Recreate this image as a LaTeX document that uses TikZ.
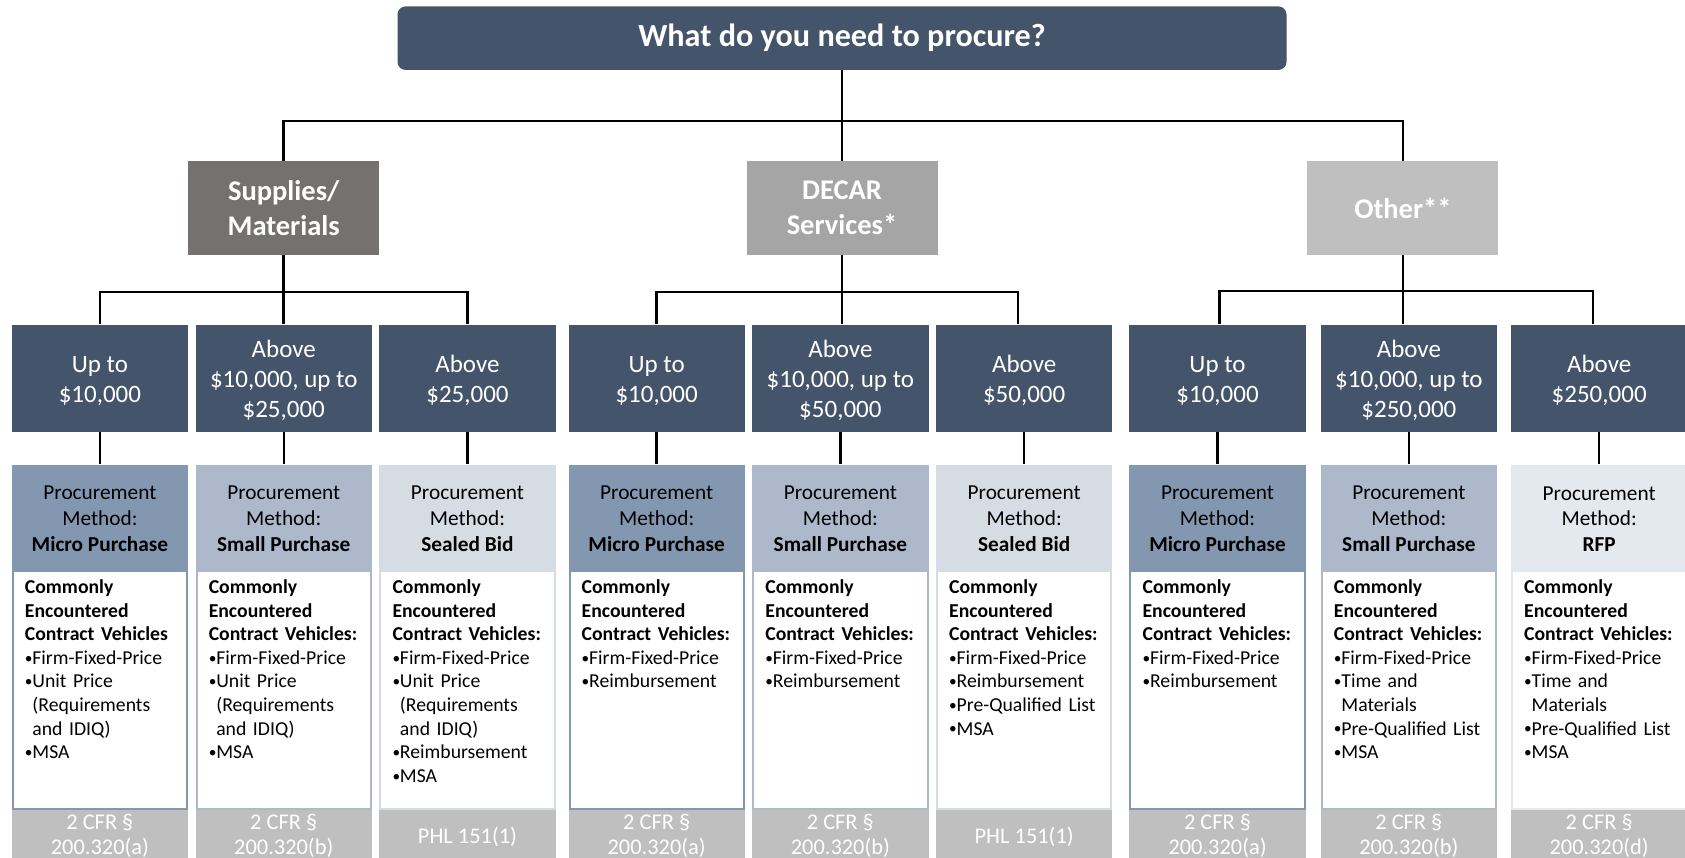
\documentclass[tikz,border=0pt]{standalone}
\usepackage{fontspec}
\setmainfont{Carlito}
\usetikzlibrary{calc}
\definecolor{slate}{HTML}{44546A}
\definecolor{supc}{HTML}{767171}
\definecolor{decc}{HTML}{A5A5A5}
\definecolor{othc}{HTML}{BFBFBF}
\definecolor{microc}{HTML}{8497B0}
\definecolor{smallc}{HTML}{ADB9CA}
\definecolor{sealc}{HTML}{D6DCE4}
\definecolor{rfpc}{HTML}{E4E8EF}
\definecolor{citec}{HTML}{BFBFBF}
\newcommand\bl{\makebox[0.38em][l]{\raisebox{0.06em}{\scalebox{0.78}{•}}}}
\newcommand\hind{\hspace*{0.38em}}
\newcommand\hd[1]{\textbf{Commonly}\\\textbf{Encountered}\\\textbf{#1}}
\newcommand\proccol[7]{%
  \node[amt] (a#1) at (#2,378) {};
  \node[amttext] (at#1) at (#2,380.6) {#3};
  \node[meth, fill=#4] (m#1) at (#2,517) {};
  \node[methtext] (mt#1) at (#2,519) {Procurement\\Method:\\\textbf{#5}};
  \node[contbox, draw=#4] (b#1) at (#2,689.75) {};
  \node[cont] (t#1) at ($(b#1.north west)+(13,10)$) {#6};
  \node[cite] (c#1) at (#2,810) {};
  \node[citetext] (ct#1) at (#2,836.4) {#7};
  \draw[conn] (a#1.south) -- (m#1.north);
}
\begin{document}
\begin{tikzpicture}[x=1pt,y=-1pt,
  titlebox/.style={fill=slate, rounded corners=8pt, minimum width=889pt, minimum height=63.5pt, text=white, font=\fontsize{32.2}{36}\selectfont\bfseries, inner sep=0pt},
  cat/.style={minimum width=191pt, minimum height=93.5pt, text=white, font=\fontsize{28.5}{34.5}\selectfont\bfseries, align=center, inner sep=0pt},
  amt/.style={fill=slate, minimum width=176.3pt, minimum height=107pt, inner sep=0pt},
  amttext/.style={text=white, font=\fontsize{25}{30}\selectfont, align=center, inner sep=0pt},
  meth/.style={minimum width=176.3pt, minimum height=105pt, inner sep=0pt},
  methtext/.style={text=black, font=\fontsize{21.3}{25.8}\selectfont, align=center, inner sep=0pt},
  contbox/.style={fill=white, line width=2pt, minimum width=174.3pt, minimum height=238.5pt, inner sep=0pt},
  cont/.style={anchor=north west, inner sep=0pt, text width=165pt, align=left, text=black, font=\fontsize{19.7}{23.6}\selectfont},
  cite/.style={fill=citec, anchor=north, minimum width=176.3pt, minimum height=49pt, inner sep=0pt},
  citetext/.style={text=white, font=\fontsize{22.4}{25}\selectfont, align=center, inner sep=0pt},
  conn/.style={line width=2.5pt, black}]
\useasboundingbox (0,0) rectangle (1685,858);
\clip (0,0) rectangle (1685,858);
\fill[white] (0,0) rectangle (1685,858);

\node[titlebox] (q) at (842,38.2) {What do you need to procure?};
\node[cat, fill=supc] (sup) at (283.7,208) {Supplies/\\Materials};
\node[cat, fill=decc] (dec) at (842,208) {DECAR\\Services*};
\node[cat, fill=othc] (oth) at (1402.9,208) {Other**};

\draw[conn] (sup.north) -- ++(0,-39.8) -| (oth.north);
\draw[conn] (q.south) -- (dec.north);

\proccol{1}{99.9}{Up to\\\$10,000}{microc}{Micro Purchase}{\hd{Contract Vehicles}\\\bl Firm-Fixed-Price\\\bl Unit Price\\\hind(Requirements\\\hind and IDIQ)\\\bl MSA}{2 CFR §\\200.320(a)}
\proccol{2}{283.75}{Above\\\$10,000, up to\\\$25,000}{smallc}{Small Purchase}{\hd{Contract Vehicles:}\\\bl Firm-Fixed-Price\\\bl Unit Price\\\hind(Requirements\\\hind and IDIQ)\\\bl MSA}{2 CFR §\\200.320(b)}
\proccol{3}{467.45}{Above\\\$25,000}{sealc}{Sealed Bid}{\hd{Contract Vehicles:}\\\bl Firm-Fixed-Price\\\bl Unit Price\\\hind(Requirements\\\hind and IDIQ)\\\bl Reimbursement\\\bl MSA}{PHL 151(1)}
\proccol{4}{656.65}{Up to\\\$10,000}{microc}{Micro Purchase}{\hd{Contract Vehicles:}\\\bl Firm-Fixed-Price\\\bl Reimbursement}{2 CFR §\\200.320(a)}
\proccol{5}{840.35}{Above\\\$10,000, up to\\\$50,000}{smallc}{Small Purchase}{\hd{Contract Vehicles:}\\\bl Firm-Fixed-Price\\\bl Reimbursement}{2 CFR §\\200.320(b)}
\proccol{6}{1024.15}{Above\\\$50,000}{sealc}{Sealed Bid}{\hd{Contract Vehicles:}\\\bl Firm-Fixed-Price\\\bl Reimbursement\\\bl Pre-Qualified List\\\bl MSA}{PHL 151(1)}
\proccol{7}{1217.55}{Up to\\\$10,000}{microc}{Micro Purchase}{\hd{Contract Vehicles:}\\\bl Firm-Fixed-Price\\\bl Reimbursement}{2 CFR §\\200.320(a)}
\proccol{8}{1408.85}{Above\\\$10,000, up to\\\$250,000}{smallc}{Small Purchase}{\hd{Contract Vehicles:}\\\bl Firm-Fixed-Price\\\bl Time and\\\hind Materials\\\bl Pre-Qualified List\\\bl MSA}{2 CFR §\\200.320(b)}
\proccol{9}{1599.15}{Above\\\$250,000}{rfpc}{RFP}{\hd{Contract Vehicles:}\\\bl Firm-Fixed-Price\\\bl Time and\\\hind Materials\\\bl Pre-Qualified List\\\bl MSA}{2 CFR §\\200.320(d)}

\draw[conn] (a1.north) -- ++(0,-32.2) -| (a3.north);
\draw[conn] (sup.south) -- (sup.south |- a2.north);
\draw[conn] (a4.north) -- ++(0,-32.2) -| ([xshift=-6pt]a6.north);
\draw[conn] (dec.south) -- (dec.south |- a5.north);
\draw[conn] ([xshift=2pt]a7.north) -- ++(0,-33.5) -| ([xshift=-6pt]a9.north);
\draw[conn] (oth.south) -- (oth.south |- a8.north);
\end{tikzpicture}
\end{document}
